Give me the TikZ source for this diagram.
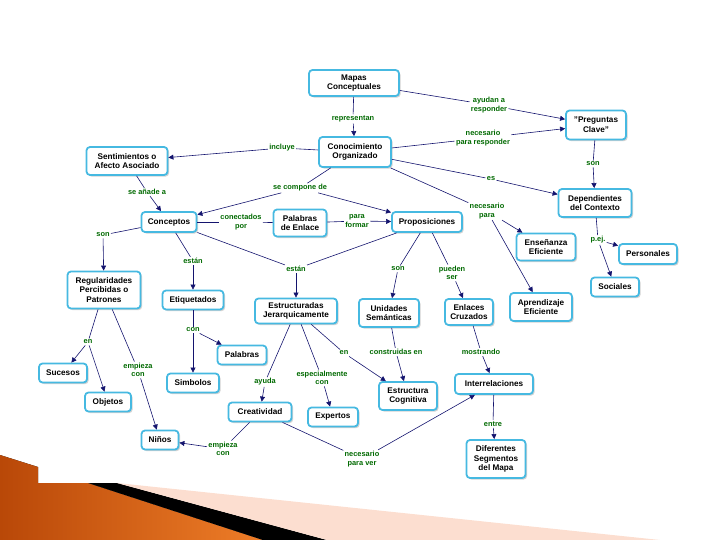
\documentclass[tikz,border=0pt]{standalone}
\usepackage{fontspec}
\setmainfont{Liberation Sans}
\usetikzlibrary{arrows.meta,shadows}
\definecolor{cbord}{RGB}{70,185,225}
\definecolor{lnk}{RGB}{0,105,0}
\definecolor{navy}{RGB}{20,20,110}
\definecolor{orngdark}{RGB}{185,72,8}
\definecolor{ornglight}{RGB}{238,125,40}
\definecolor{pinkish}{RGB}{252,222,208}
\begin{document}
\begin{tikzpicture}[x=1pt,y=-1pt,
  concept/.style={draw=cbord, line width=1.8pt, rounded corners=3.5pt, fill=white, align=center,
    font=\bfseries\fontsize{8.2}{9.6}\selectfont, inner sep=1pt,
    drop shadow={shadow xshift=1.6pt,shadow yshift=-1.6pt,fill=black!35}},
  lab/.style={text=lnk, align=center, font=\bfseries\fontsize{7.4}{8.6}\selectfont, inner sep=1.2pt},
  ln/.style={draw=navy, line width=0.6pt},
  ar/.style={ln, -{Triangle[width=5pt,length=5pt]}},
]
\useasboundingbox (0,0) rectangle (720,540);
% decoration
\fill[left color=orngdark, right color=ornglight] (0,455) -- (38,467) -- (38,483) -- (88,483) -- (263,540) -- (0,540) -- cycle;
\fill[black] (88,483) -- (117,483) -- (327,540) -- (263,540) -- cycle;
\fill[pinkish] (117,483) -- (660,540) -- (327,540) -- cycle;

% concepts
\node[concept, minimum width=90pt, minimum height=26pt] (mapas) at (354,83) {Mapas\\Conceptuales};
\node[concept, minimum width=60pt, minimum height=29pt] (preg) at (596,125) {\symbol{34}Preguntas\\Clave\symbol{34}};
\node[concept, minimum width=81pt, minimum height=28pt] (sent) at (127,161) {Sentimientos o\\Afecto Asociado};
\node[concept, minimum width=72pt, minimum height=30pt] (conoc) at (355,152) {Conocimiento\\Organizado};
\node[concept, minimum width=73pt, minimum height=28pt] (dep) at (595,203) {Dependientes\\del Contexto};
\node[concept, minimum width=55pt, minimum height=20pt] (conc) at (169,222) {Conceptos};
\node[concept, minimum width=53pt, minimum height=27pt] (pal) at (300,223) {Palabras\\de Enlace};
\node[concept, minimum width=70pt, minimum height=20pt] (prop) at (427,222) {Proposiciones};
\node[concept, minimum width=59pt, minimum height=27pt] (ens) at (546,247) {Enseñanza\\Eficiente};
\node[concept, minimum width=58pt, minimum height=20pt] (pers) at (648,254) {Personales};
\node[concept, minimum width=48pt, minimum height=19pt] (soc) at (615,287) {Sociales};
\node[concept, minimum width=73pt, minimum height=37pt] (reg) at (104,290) {Regularidades\\Percibidas o\\Patrones};
\node[concept, minimum width=61pt, minimum height=19pt] (etiq) at (193,300) {Etiquetados};
\node[concept, minimum width=82pt, minimum height=25pt] (estr) at (296,311) {Estructuradas\\Jerarquicamente};
\node[concept, minimum width=60pt, minimum height=28pt] (unid) at (389,313) {Unidades\\Semánticas};
\node[concept, minimum width=48pt, minimum height=26pt] (enl) at (469,312) {Enlaces\\Cruzados};
\node[concept, minimum width=62pt, minimum height=28pt] (apr) at (541,307) {Aprendizaje\\Eficiente};
\node[concept, minimum width=49pt, minimum height=19pt] (palb) at (242,355) {Palabras};
\node[concept, minimum width=48pt, minimum height=19pt] (suc) at (63,373) {Sucesos};
\node[concept, minimum width=52pt, minimum height=19pt] (simb) at (193,383) {Simbolos};
\node[concept, minimum width=46pt, minimum height=19pt] (objs) at (108,402) {Objetos};
\node[concept, minimum width=58pt, minimum height=28pt] (ecog) at (408,396) {Estructura\\Cognitiva};
\node[concept, minimum width=78pt, minimum height=20pt] (inter) at (494,384) {Interrelaciones};
\node[concept, minimum width=63pt, minimum height=19pt] (creat) at (260,412) {Creatividad};
\node[concept, minimum width=50pt, minimum height=19pt] (exp) at (333,417) {Expertos};
\node[concept, minimum width=37pt, minimum height=19pt] (nin) at (160,440) {Niños};
\node[concept, minimum width=59pt, minimum height=38pt] (dif) at (496,459) {Diferentes\\Segmentos\\del Mapa};

% linking phrases
\node[lab] (lrep) at (353,119) {representan};
\node[lab] (layu) at (489,105) {ayudan a\\responder};
\node[lab] (lnec) at (483,138) {necesario\\para responder};
\node[lab] (linc) at (282,148) {incluye};
\node[lab] (lson1) at (593,164) {son};
\node[lab] (les) at (491,179) {es};
\node[lab] (lana) at (147,192) {se añade a};
\node[lab] (lcomp) at (300,188) {se compone de};
\node[lab] (lcpor) at (241,222) {conectados\\por};
\node[lab] (lform) at (357,221) {para\\formar};
\node[lab] (lnpara) at (487,211) {necesario\\para};
\node[lab] (lson2) at (103,235) {son};
\node[lab] (lpej) at (598,240) {p.ej.};
\node[lab] (lest1) at (193,261) {están};
\node[lab] (lest2) at (296,269) {están};
\node[lab] (lson3) at (398,269) {son};
\node[lab] (lpue) at (452,273) {pueden\\ser};
\node[lab] (lcon) at (193,330) {con};
\node[lab] (len1) at (88,342) {en};
\node[lab] (len2) at (344,353) {en};
\node[lab] (lcons) at (396,352) {construidas en};
\node[lab] (lmos) at (481,352) {mostrando};
\node[lab] (lemp1) at (138,370) {empieza\\con};
\node[lab] (layuda) at (265,382) {ayuda};
\node[lab] (lesp) at (322,378) {especialmente\\con};
\node[lab] (lent) at (493,424) {entre};
\node[lab] (lemp2) at (223,449) {empieza\\con};
\node[lab] (lnver) at (362,459) {necesario\\para ver};

% connectors
\draw[ln] (mapas) -- (lrep); \draw[ar] (lrep) -- (conoc);
\draw[ln] (mapas) -- (layu); \draw[ar] (layu) -- (preg);
\draw[ln] (conoc) -- (lnec); \draw[ar] (lnec) -- (preg);
\draw[ln] (conoc) -- (linc); \draw[ar] (linc) -- (sent);
\draw[ln] (conoc) -- (les); \draw[ar] (les) -- (dep);
\draw[ln] (conoc) -- (lnpara); \draw[ar] (lnpara) -- (ens); \draw[ar] (lnpara) -- (apr);
\draw[ln] (preg) -- (lson1); \draw[ar] (lson1) -- (dep);
\draw[ln] (dep) -- (lpej); \draw[ar] (lpej) -- (pers); \draw[ar] (lpej) -- (soc);
\draw[ln] (sent) -- (lana); \draw[ar] (lana) -- (conc);
\draw[ln] (conoc) -- (lcomp); \draw[ar] (lcomp) -- (conc); \draw[ar] (lcomp) -- (prop);
\draw[ln] (conc) -- (lcpor); \draw[ln] (lcpor) -- (pal);
\draw[ln] (pal) -- (lform); \draw[ar] (lform) -- (prop);
\draw[ln] (conc) -- (lson2); \draw[ar] (lson2) -- (reg);
\draw[ln] (conc) -- (lest1); \draw[ar] (lest1) -- (etiq);
\draw[ln] (conc) -- (lest2); \draw[ln] (prop) -- (lest2); \draw[ar] (lest2) -- (estr);
\draw[ln] (prop) -- (lson3); \draw[ar] (lson3) -- (unid);
\draw[ln] (prop) -- (lpue); \draw[ar] (lpue) -- (enl);
\draw[ln] (reg) -- (len1); \draw[ar] (len1) -- (suc); \draw[ar] (len1) -- (objs);
\draw[ln] (reg) -- (lemp1); \draw[ar] (lemp1) -- (nin);
\draw[ln] (etiq) -- (lcon); \draw[ar] (lcon) -- (palb); \draw[ar] (lcon) -- (simb);
\draw[ln] (estr) -- (layuda); \draw[ar] (layuda) -- (creat);
\draw[ln] (estr) -- (lesp); \draw[ar] (lesp) -- (exp);
\draw[ln] (estr) -- (len2); \draw[ar] (len2) -- (ecog);
\draw[ln] (unid) -- (lcons); \draw[ar] (lcons) -- (ecog);
\draw[ln] (enl) -- (lmos); \draw[ar] (lmos) -- (inter);
\draw[ln] (inter) -- (lent); \draw[ar] (lent) -- (dif);
\draw[ln] (creat) -- (lemp2); \draw[ar] (lemp2) -- (nin);
\draw[ln] (creat) -- (lnver); \draw[ar] (lnver) -- (inter);
\end{tikzpicture}
\end{document}
